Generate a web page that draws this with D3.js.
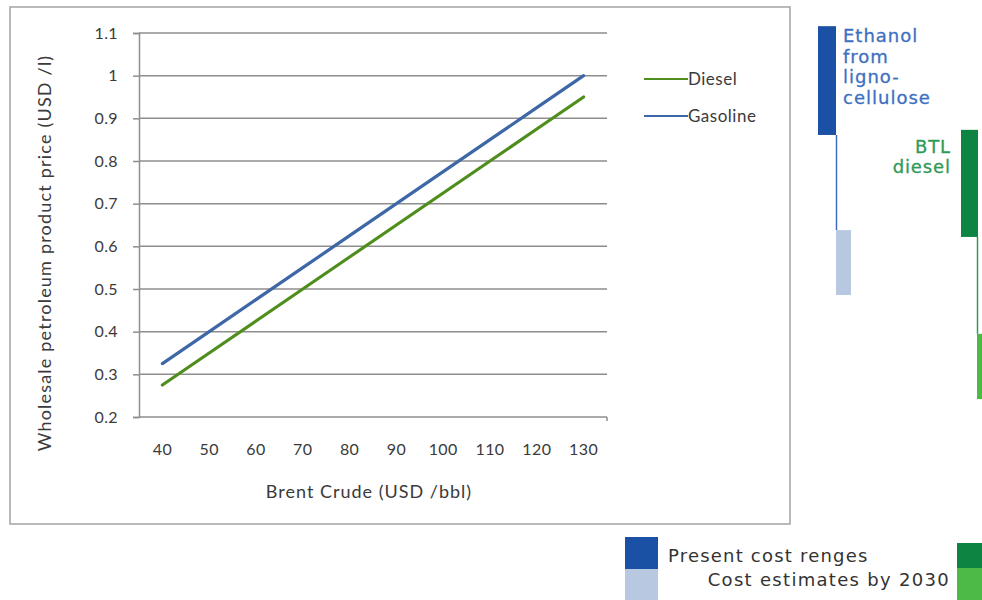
<!DOCTYPE html>
<html>
<head>
<meta charset="utf-8">
<script src="https://cdn.jsdelivr.net/npm/d3@7"></script>
<style>
  html, body { margin: 0; padding: 0; background: #fff; }
  svg { display: block; }
</style>
</head>
<body>
<svg id="chart" width="982" height="600"></svg>
<script>
// Brent crude price (USD/bbl) categories
const brentCrude = [40, 50, 60, 70, 80, 90, 100, 110, 120, 130];
// Wholesale product prices (USD/l)
const diesel   = [0.275, 0.35, 0.425, 0.50, 0.575, 0.65, 0.725, 0.80, 0.875, 0.95];
const gasoline = [0.325, 0.40, 0.475, 0.55, 0.625, 0.70, 0.775, 0.85, 0.925, 1.00];
const yTicks = [0.2, 0.3, 0.4, 0.5, 0.6, 0.7, 0.8, 0.9, 1.0, 1.1];
const yTickLabels = ["0.2", "0.3", "0.4", "0.5", "0.6", "0.7", "0.8", "0.9", "1", "1.1"];

// Biofuel cost ranges (USD/l): [low, high]
const ethanolPresent = [0.861, 1.116];
const ethanol2030    = [0.486, 0.638];
const btlPresent     = [0.622, 0.873];
const btl2030        = [0.242, 0.395];

const svg = d3.select("#chart");
const FONT = "Lato, 'Open Sans', sans-serif";
const GEO = "'DejaVu Sans', sans-serif";

// Chart frame
svg.append("rect")
  .attr("x", 10).attr("y", 7).attr("width", 780).attr("height", 517)
  .attr("fill", "#fff").attr("stroke", "#a3a3a3").attr("stroke-width", 1.5);

const plot = { left: 139, right: 607, top: 33, bottom: 417 };

const x = d3.scaleBand().domain(brentCrude).range([plot.left, plot.right]).padding(0);
const y = d3.scaleLinear().domain([0.2, 1.1]).range([plot.bottom, plot.top]);
const cx = d => x(d) + x.bandwidth() / 2;

// Horizontal gridlines
svg.append("g").selectAll("line")
  .data(yTicks)
  .join("line")
  .attr("x1", plot.left).attr("x2", plot.right)
  .attr("y1", d => y(d)).attr("y2", d => y(d))
  .attr("stroke", "#8e8e8e").attr("stroke-width", 1.5);

// Y axis
const yAxis = svg.append("g")
  .attr("transform", `translate(${plot.left},0)`)
  .call(d3.axisLeft(y).tickValues(yTicks).tickSize(6).tickPadding(15)
    .tickFormat((d, i) => yTickLabels[i]));
yAxis.select(".domain").attr("stroke", "#8e8e8e").attr("stroke-width", 1.5);
yAxis.selectAll(".tick line").attr("stroke", "#8e8e8e").attr("stroke-width", 1.5);
yAxis.selectAll("text")
  .attr("font-family", FONT).attr("font-size", 16).attr("letter-spacing", 0.4)
  .attr("fill", "#3a3a3a");

// X axis
const xAxis = svg.append("g")
  .attr("transform", `translate(0,${plot.bottom})`)
  .call(d3.axisBottom(x).tickSize(0).tickPadding(27));
xAxis.select(".domain").remove();
xAxis.selectAll("text")
  .attr("font-family", FONT).attr("font-size", 16).attr("letter-spacing", 0.4)
  .attr("fill", "#3a3a3a");
svg.append("line")
  .attr("x1", plot.right).attr("x2", plot.right)
  .attr("y1", plot.bottom).attr("y2", plot.bottom + 4)
  .attr("stroke", "#8e8e8e").attr("stroke-width", 1.5);

// Axis titles
svg.append("text")
  .attr("transform", `translate(51,${(plot.top + plot.bottom) / 2 + 28}) rotate(-90)`)
  .attr("text-anchor", "middle")
  .attr("font-family", FONT).attr("font-size", 18).attr("letter-spacing", 1.2)
  .attr("fill", "#3a3a3a")
  .text("Wholesale petroleum product price (USD /l)");

svg.append("text")
  .attr("x", 369).attr("y", 498)
  .attr("text-anchor", "middle")
  .attr("font-family", FONT).attr("font-size", 18).attr("letter-spacing", 1)
  .attr("fill", "#3a3a3a")
  .text("Brent Crude (USD /bbl)");

// Price lines
const series = [
  { name: "Diesel", values: diesel, color: "#4f8d1c" },
  { name: "Gasoline", values: gasoline, color: "#3d67a6" }
];
const line = d3.line().x((d, i) => cx(brentCrude[i])).y(d => y(d));
svg.append("g").selectAll("path")
  .data(series)
  .join("path")
  .attr("d", s => line(s.values))
  .attr("fill", "none")
  .attr("stroke", s => s.color)
  .attr("stroke-width", 3.2)
  .attr("stroke-linecap", "round");

// Legend
const leg = svg.append("g").selectAll("g")
  .data(series)
  .join("g")
  .attr("transform", (s, i) => `translate(644,${79 + i * 37})`);
leg.append("line")
  .attr("x1", 0).attr("x2", 44)
  .attr("stroke", s => s.color).attr("stroke-width", 2);
leg.append("text")
  .attr("x", 44).attr("dy", "0.35em")
  .attr("font-family", FONT).attr("font-size", 17).attr("letter-spacing", 0.5)
  .attr("fill", "#3a3a3a")
  .text(s => s.name);

// Biofuel cost range columns, on the same price scale
const costCols = [
  { present: ethanolPresent, future: ethanol2030,
    x0: 818, w0: 18, x1: 836, w1: 15,
    dark: "#1b51a4", light: "#b8c8e0", link: "#3b6cc0" },
  { present: btlPresent, future: btl2030,
    x0: 961, w0: 17, x1: 977, w1: 20,
    dark: "#0d8441", light: "#4dba48", link: "#2f9a50" }
];
const cols = svg.append("g").selectAll("g").data(costCols).join("g");
cols.append("line")
  .attr("x1", c => c.x1 + 0.5).attr("x2", c => c.x1 + 0.5)
  .attr("y1", c => y(c.present[0])).attr("y2", c => y(c.future[1]))
  .attr("stroke", c => c.link).attr("stroke-width", 1.5);
cols.append("rect")
  .attr("x", c => c.x0).attr("width", c => c.w0)
  .attr("y", c => y(c.present[1]))
  .attr("height", c => y(c.present[0]) - y(c.present[1]))
  .attr("fill", c => c.dark);
cols.append("rect")
  .attr("x", c => c.x1).attr("width", c => c.w1)
  .attr("y", c => y(c.future[1]))
  .attr("height", c => y(c.future[0]) - y(c.future[1]))
  .attr("fill", c => c.light);

// Column labels
const ethLabel = svg.append("text")
  .attr("font-family", GEO).attr("font-size", 18).attr("letter-spacing", 1)
  .attr("fill", "#3d6fc1").attr("stroke", "#3d6fc1").attr("stroke-width", 0.3);
["Ethanol", "from", "ligno-", "cellulose"].forEach((t, i) => {
  ethLabel.append("tspan").attr("x", 843).attr("y", 42 + i * 20.5).text(t);
});
const btlLabel = svg.append("text")
  .attr("font-family", GEO).attr("font-size", 18).attr("letter-spacing", 0.9)
  .attr("text-anchor", "end")
  .attr("fill", "#2f9a55").attr("stroke", "#2f9a55").attr("stroke-width", 0.3);
["BTL", "diesel"].forEach((t, i) => {
  btlLabel.append("tspan").attr("x", 951).attr("y", 153 + i * 20).text(t);
});

// Cost legend
svg.append("rect").attr("x", 625).attr("y", 537).attr("width", 33).attr("height", 32).attr("fill", "#1b51a4");
svg.append("rect").attr("x", 625).attr("y", 569).attr("width", 33).attr("height", 31).attr("fill", "#b8c8e0");
svg.append("rect").attr("x", 957).attr("y", 543).attr("width", 30).attr("height", 25).attr("fill", "#0d8441");
svg.append("rect").attr("x", 957).attr("y", 568).attr("width", 30).attr("height", 32).attr("fill", "#4dba48");
svg.append("text")
  .attr("x", 668).attr("y", 562)
  .attr("font-family", GEO).attr("font-size", 18).attr("letter-spacing", 1.2)
  .attr("fill", "#333")
  .text("Present cost renges");
svg.append("text")
  .attr("x", 950).attr("y", 586)
  .attr("text-anchor", "end")
  .attr("font-family", GEO).attr("font-size", 18).attr("letter-spacing", 1.3)
  .attr("fill", "#333")
  .text("Cost estimates by 2030");
</script>
</body>
</html>
